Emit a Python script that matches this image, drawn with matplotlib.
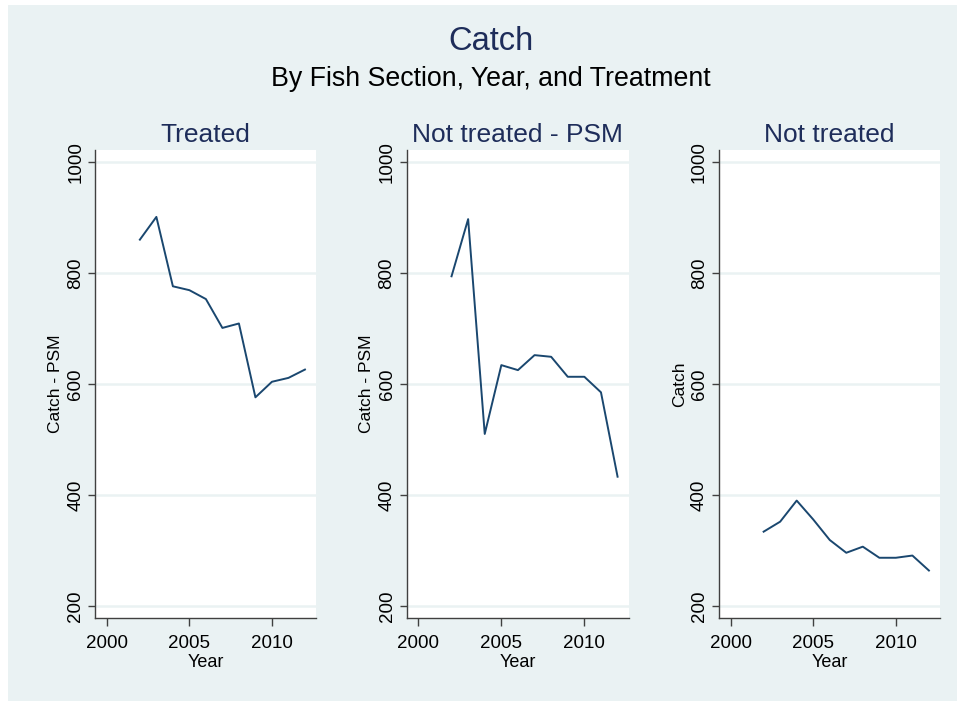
import numpy as np
import matplotlib
matplotlib.use("Agg")
import matplotlib.pyplot as plt
from matplotlib.patches import Rectangle

# data
years = [2002, 2003, 2004, 2005, 2006, 2007, 2008, 2009, 2010, 2011, 2012]
treated = [860, 901, 776, 769, 753, 701, 709, 576, 604, 611, 626]
not_treated_psm = [794, 897, 510, 634, 625, 652, 649, 613, 613, 585, 433]
not_treated = [334, 352, 390, 356, 319, 296, 307, 287, 287, 291, 264]

panel_titles = ["Treated", "Not treated - PSM", "Not treated"]
panel_ylabels = ["Catch - PSM", "Catch - PSM", "Catch"]
series = [treated, not_treated_psm, not_treated]

yticks = [200, 400, 600, 800, 1000]
xticks = [2000, 2005, 2010]

# Stata-ish colours
bg = "#EAF2F3"
navy = "#1A476F"
title_col = "#1E2D5A"
spine_col = "#404040"

plt.rcParams['font.family'] = ['Liberation Sans', 'DejaVu Sans']

W, H = 964, 706
fig = plt.figure(figsize=(W / 100, H / 100), dpi=100, facecolor="white")

# grey-blue graph region with a thin white margin
fig.add_artist(Rectangle((8 / W, 1 - 701 / H), (957 - 8) / W, (701 - 5) / H,
                         transform=fig.transFigure, facecolor=bg,
                         edgecolor="none", zorder=-10))

fig.text(491 / W, 1 - 41 / H, "Catch", ha="center", va="center",
         fontsize=23.5, color=title_col)
fig.text(491 / W, 1 - 79 / H, "By Fish Section, Year, and Treatment",
         ha="center", va="center", fontsize=19.3, color="black")

lefts = [95.3, 406.7, 719]
widths = [220.7, 222, 221]
top, bottom = 150, 618

for i in range(3):
    ax = fig.add_axes([lefts[i] / W, 1 - bottom / H, widths[i] / W, (bottom - top) / H])
    ax.set_facecolor("white")
    ax.plot(years, series[i], color=navy, linewidth=1.4, zorder=3)

    ax.set_xlim(1999.3, 2012.67)
    ax.set_ylim(178.5, 1021.5)
    ax.set_xticks(xticks)
    ax.set_yticks(yticks)
    ax.yaxis.grid(True, color=bg, linewidth=1.8, zorder=1)
    ax.set_axisbelow(True)

    for s in ["top", "right"]:
        ax.spines[s].set_visible(False)
    for s in ["left", "bottom"]:
        ax.spines[s].set_color(spine_col)
        ax.spines[s].set_linewidth(1.0)

    ax.tick_params(axis="x", length=6, width=1, color=spine_col, labelsize=13.5, pad=6)
    ax.tick_params(axis="y", length=5, width=1, color=spine_col, labelsize=13.5, pad=3)
    for lab in ax.get_yticklabels():
        lab.set_rotation(90)
        lab.set_va("center")

    ax.set_title(panel_titles[i], fontsize=19, color=title_col, pad=6)
    ax.set_xlabel("Year", fontsize=13, labelpad=1.5)
    ax.set_ylabel(panel_ylabels[i], fontsize=12.5, labelpad=3)

fig.savefig("out.png", dpi=100, facecolor="white")
